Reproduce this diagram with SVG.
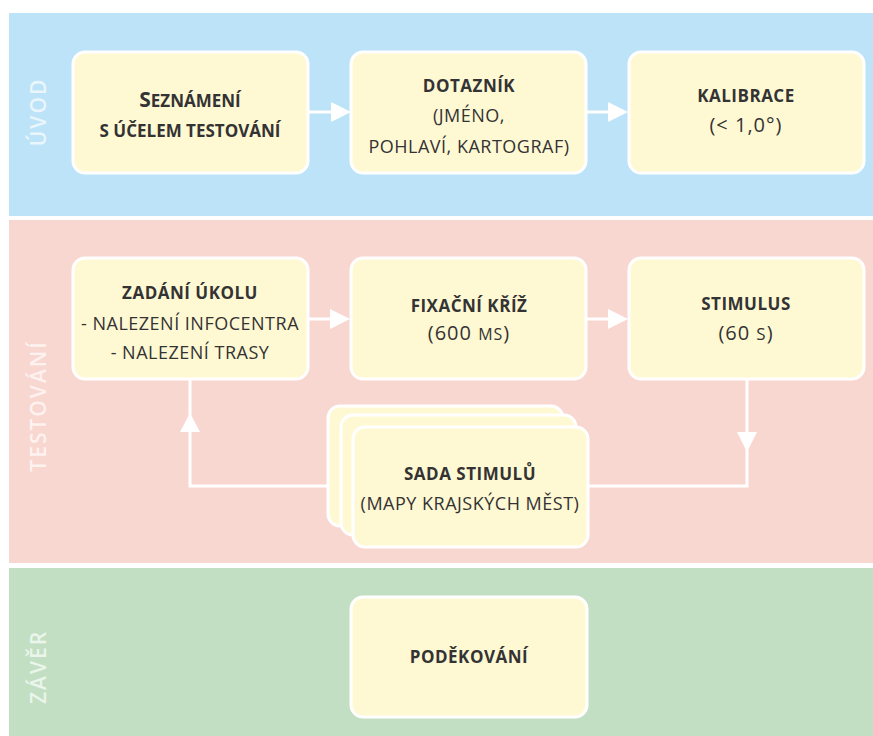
<svg xmlns="http://www.w3.org/2000/svg" width="873" height="736" viewBox="0 0 873 736">
<defs>
<style>
.box{fill:#FFF9D3;stroke:#FFFFFF;stroke-width:3}
.t{font-family:"Open Sans","DejaVu Sans",sans-serif;fill:#333333;text-anchor:middle}
.b{font-weight:700;font-size:17px;letter-spacing:0.5px}
.r{font-weight:400;font-size:18px;letter-spacing:0.5px}
.n{font-weight:400;font-size:20px;letter-spacing:1px}
.lane{font-family:"Open Sans","DejaVu Sans",sans-serif;font-size:21px;font-weight:600;letter-spacing:2px;fill:#FFFFFF;fill-opacity:0.7;text-anchor:middle}
.ln{fill:none;stroke:#FFFFFF;stroke-width:3}
.ah{fill:#FFFFFF}
</style>
</defs>
<rect width="873" height="736" fill="#FFFFFF"/>
<g id="lanes">
<rect x="9" y="13" width="864" height="203" fill="#BDE3F8"/>
<rect x="9" y="220" width="864" height="343" fill="#F9D7D1"/>
<rect x="9" y="568" width="864" height="168" fill="#C2DFC3"/>
<text class="lane" transform="translate(46,112) rotate(-90)">ÚVOD</text>
<text class="lane" transform="translate(46,406) rotate(-90)">TESTOVÁNÍ</text>
<text class="lane" transform="translate(46,667) rotate(-90)">ZÁVĚR</text>
</g>
<g id="connectors">
<line class="ln" x1="308" y1="112" x2="332" y2="112"/>
<polygon class="ah" points="331,102 351,112 331,122"/>
<line class="ln" x1="586" y1="112" x2="609" y2="112"/>
<polygon class="ah" points="608,102 628,112 608,122"/>
<line class="ln" x1="308" y1="319" x2="331" y2="319"/>
<polygon class="ah" points="330,309 350,319 330,329"/>
<line class="ln" x1="586" y1="319" x2="609" y2="319"/>
<polygon class="ah" points="608,309 628,319 608,329"/>
<polyline class="ln" points="747,379 747,486 190,486 190,379"/>
<polygon class="ah" points="737,432 757,432 747,452"/>
<polygon class="ah" points="180,432 200,432 190,413"/>
</g>
<g id="n-seznameni">
<rect class="box" x="73" y="52" width="235" height="121" rx="12"/>
<text class="t" x="190" y="107" font-weight="700" font-size="17px"><tspan font-size="21px">S</tspan>EZNÁMENÍ</text>
<text class="t" x="190" y="137" font-weight="700" font-size="17px">S ÚČELEM TESTOVÁNÍ</text>
</g>
<g id="n-dotaznik">
<rect class="box" x="351" y="52" width="235" height="121" rx="12"/>
<text class="t b" x="469" y="92">DOTAZNÍK</text>
<text class="t r" x="469" y="122">(JMÉNO,</text>
<text class="t r" x="469" y="153">POHLAVÍ, KARTOGRAF)</text>
</g>
<g id="n-kalibrace">
<rect class="box" x="629" y="52" width="235" height="121" rx="12"/>
<text class="t b" x="746" y="102">KALIBRACE</text>
<text class="t n" x="746" y="132">(&lt; 1,0°)</text>
</g>
<g id="n-zadani">
<rect class="box" x="73" y="258" width="235" height="121" rx="12"/>
<text class="t b" x="190" y="299">ZADÁNÍ ÚKOLU</text>
<text class="t r" x="190" y="330">- NALEZENÍ INFOCENTRA</text>
<text class="t r" x="190" y="359">- NALEZENÍ TRASY</text>
</g>
<g id="n-fixacni">
<rect class="box" x="351" y="258" width="235" height="121" rx="12"/>
<text class="t b" x="469" y="312">FIXAČNÍ KŘÍŽ</text>
<text class="t n" x="469" y="340">(600 <tspan font-size="16px">MS</tspan>)</text>
</g>
<g id="n-stimulus">
<rect class="box" x="629" y="258" width="235" height="121" rx="12"/>
<text class="t b" x="746" y="310">STIMULUS</text>
<text class="t n" x="746" y="340">(60 <tspan font-size="17px">S</tspan>)</text>
</g>
<g id="n-sada">
<rect class="box" x="328" y="406" width="235" height="120" rx="12"/>
<rect class="box" x="341" y="415" width="235" height="120" rx="12"/>
<rect class="box" x="353" y="427" width="235" height="120" rx="12"/>
<text class="t b" x="470" y="480">SADA STIMULŮ</text>
<text class="t r" x="470" y="510">(MAPY KRAJSKÝCH MĚST)</text>
</g>
<g id="n-podekovani">
<rect class="box" x="351" y="597" width="236" height="120" rx="12"/>
<text class="t b" x="469" y="663">PODĚKOVÁNÍ</text>
</g>
</svg>
